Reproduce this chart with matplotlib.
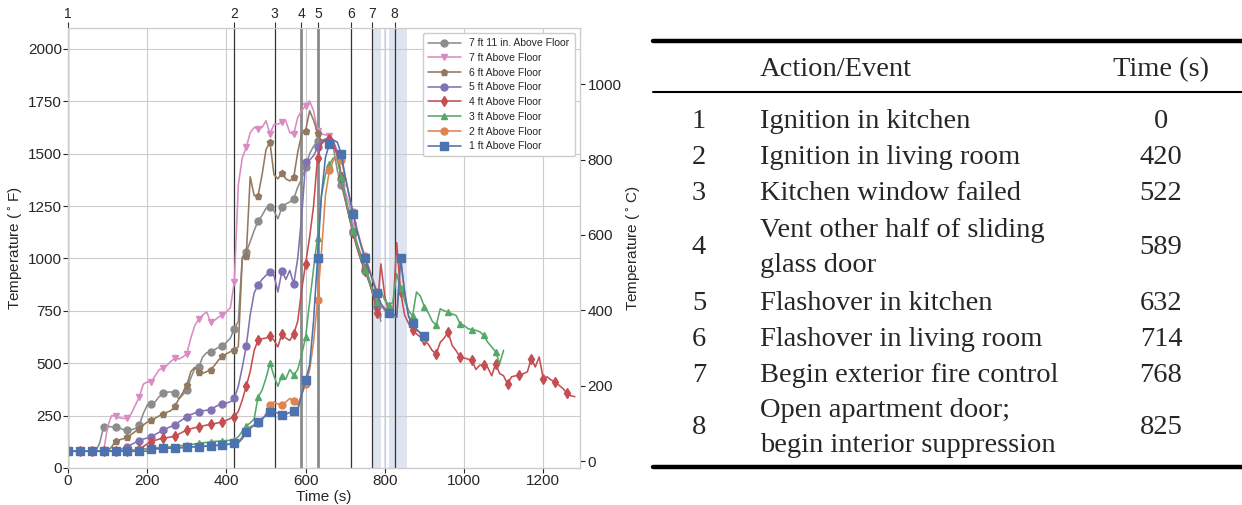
import numpy as np
import matplotlib
matplotlib.use("Agg")
import matplotlib.pyplot as plt
import seaborn as sns

# ---- data: temperatures (F) sampled every 10 s from ignition
step = 10
t_7ft11 = [80] * 8 + [120, 197, 200, 196, 194, 190, 183, 181, 183, 188, 205, 260, 300, 305, 316, 340,
           356, 362, 363, 356, 330, 350, 371, 430, 474, 480, 530, 550, 554, 565, 575, 580, 600, 620,
           665, 700, 1006, 1030, 1080, 1133, 1180, 1205, 1240, 1244, 1228, 1189, 1244, 1260, 1270,
           1284, 1340, 1380, 1435, 1500, 1535, 1560, 1565, 1560, 1545, 1530, 1420, 1350, 1280, 1200,
           1130, 1060, 1000, 950, 900, 840, 784, 700]
t_7ft = [80] * 10 + [200, 250, 248, 240, 236, 237, 260, 300, 340, 400, 410, 411, 440, 470, 475, 490,
         510, 523, 520, 530, 546, 620, 680, 710, 730, 745, 697, 705, 720, 729, 745, 765, 890, 1350,
         1480, 1530, 1600, 1625, 1620, 1625, 1657, 1594, 1640, 1641, 1649, 1657, 1600, 1594, 1673,
         1705, 1730, 1752, 1705, 1610, 1594, 1590, 1586, 1560, 1514, 1400, 1320, 1260, 1160, 1070,
         1020, 960, 900, 840, 780, 730]
t_6ft = [80] * 11 + [100, 131, 135, 140, 147, 160, 175, 187, 205, 219, 228, 238, 248, 259, 266, 274,
         295, 330, 360, 395, 460, 480, 459, 451, 460, 467, 490, 515, 535, 545, 555, 565, 578, 1000,
         1010, 1390, 1300, 1300, 1400, 1520, 1554, 1400, 1380, 1410, 1380, 1370, 1387, 1506, 1594,
         1610, 1705, 1660, 1600, 1556, 1562, 1562, 1555, 1500, 1380, 1290, 1210, 1130, 1070, 1010,
         960, 905, 845, 790, 730]
t_5ft = [80] * 13 + [85, 95, 102, 112, 122, 130, 138, 143, 148, 160, 170, 181, 190, 198, 205, 220,
         232, 244, 255, 262, 268, 272, 276, 278, 290, 300, 303, 310, 316, 332, 390, 480, 580, 730,
         835, 875, 900, 920, 935, 919, 840, 940, 900, 943, 879, 1000, 1200, 1460, 1470, 1490, 1530,
         1562, 1570, 1565, 1560, 1500, 1380, 1280, 1200, 1120, 1050, 990, 940, 890, 830, 770, 720]
t_4ft = [80] * 18 + [90, 102, 115, 125, 132, 138, 141, 145, 148, 152, 162, 172, 181, 187, 192, 197,
         200, 205, 209, 212, 216, 220, 228, 236, 244, 270, 324, 390, 460, 560, 612, 617, 620, 628,
         610, 578, 641, 620, 609, 640, 700, 850, 974, 1100, 1250, 1480, 1546, 1565, 1570, 1546,
         1490, 1390, 1290, 1200, 1120, 1050, 990, 940, 890, 830, 740, 974, 820, 744, 720, 1075, 840,
         730, 690, 657, 640, 625, 609, 590, 560, 546, 600, 620, 649, 585, 560, 530, 525, 520, 514,
         470, 491, 490, 480, 440, 498, 451, 440, 400, 435, 440, 443, 450, 459, 522, 482, 530, 427,
         435, 420, 411, 395, 379, 356, 345, 340]
t_3ft = [80] * 16 + [85, 87, 89, 90, 92, 94, 96, 98, 99, 100, 101, 102, 105, 108, 110, 112, 114, 118,
         120, 122, 125, 127, 128, 130, 131, 132, 135, 149, 175, 200, 215, 235, 340, 371, 430, 500,
         440, 390, 440, 425, 470, 443, 470, 540, 625, 790, 950, 1100, 1300, 1400, 1450, 1480, 1470,
         1390, 1300, 1210, 1130, 1060, 1000, 945, 895, 840, 790, 850, 800, 780, 790, 927, 860, 800,
         752, 725, 840, 820, 768, 740, 700, 681, 760, 750, 744, 735, 728, 689, 680, 665, 660, 657,
         650, 633, 600, 578, 554, 498, 562]
t_2ft = [80] * 16 + [82, 84, 86, 88, 90, 91, 92, 93, 94, 95, 96, 97, 98, 99, 100, 101, 102, 103, 104,
         105, 107, 108, 109, 111, 113, 115, 117, 125, 150, 175, 197, 205, 215, 228, 260, 300, 316,
         305, 300, 315, 332, 320, 300, 350, 400, 466, 600, 800, 1030, 1300, 1420, 1467, 1490, 1470,
         1390, 1300, 1220, 1140, 1070, 1010, 955, 900, 840, 780, 750, 740, 736, 720, 1000, 839, 730,
         690, 662, 640, 620]
t_1ft = [80] * 21 + [90, 91, 92, 93, 94, 95, 95, 96, 97, 98, 100, 101, 102, 103, 104, 105, 107, 108,
         109, 111, 115, 117, 120, 140, 170, 189, 205, 220, 236, 250, 265, 268, 262, 255, 257, 265,
         270, 276, 350, 420, 491, 700, 1000, 1300, 1482, 1546, 1565, 1555, 1500, 1390, 1300, 1210,
         1130, 1060, 1000, 945, 890, 835, 784, 760, 740, 736, 720, 1000, 839, 720, 690, 662, 645, 630]

series = [
    ("7 ft 11 in. Above Floor", t_7ft11, "#8c8c8c", "o"),
    ("7 ft Above Floor", t_7ft, "#da8bc3", "v"),
    ("6 ft Above Floor", t_6ft, "#937860", "p"),
    ("5 ft Above Floor", t_5ft, "#8172b3", "o"),
    ("4 ft Above Floor", t_4ft, "#c44e52", "d"),
    ("3 ft Above Floor", t_3ft, "#55a868", "^"),
    ("2 ft Above Floor", t_2ft, "#dd8452", "o"),
    ("1 ft Above Floor", t_1ft, "#4c72b0", "s"),
]

event_times = [0, 420, 522, 589, 632, 714, 768, 825]
event_names = ["Ignition in kitchen", "Ignition in living room", "Kitchen window failed",
               "Vent other half of sliding\nglass door", "Flashover in kitchen",
               "Flashover in living room", "Begin exterior fire control",
               "Open apartment door;\nbegin interior suppression"]
spans = [(770, 790), (799, 802), (810, 857)]

sns.set_style("whitegrid")
plt.rcParams["font.family"] = ["Liberation Sans", "DejaVu Sans"]

fig = plt.figure(figsize=(12.42, 5.05), dpi=100)
ax = fig.add_axes([0.0548, 0.0733, 0.4122, 0.8713])

for a, b in spans:
    ax.axvspan(a, b, color="#dfe4f1", lw=0, zorder=0.5)

for i, et in enumerate(event_times):
    if i in (3, 4):
        ax.axvline(et, color="#8a8a8a", lw=2, zorder=1)
    else:
        ax.axvline(et, color="#333333", lw=0.9, zorder=1)

for label, vals, col, mk in series:
    tt = np.arange(len(vals)) * step
    ms = 6 if mk == "s" else 5
    ax.plot(tt, vals, color=col, lw=1.15, marker=mk, ms=ms, markevery=3, label=label, zorder=2)

ax.set_xlim(0, 1293)
ax.set_ylim(0, 2100)
ax.set_xticks([0, 200, 400, 600, 800, 1000, 1200])
ax.set_yticks([0, 250, 500, 750, 1000, 1250, 1500, 1750, 2000])
ax.set_xlabel("Time (s)", fontsize=11, labelpad=1)
ax.set_ylabel("Temperature ($^\\circ$F)", fontsize=11, labelpad=2)
ax.tick_params(labelsize=11, pad=1)
for s in ax.spines.values():
    s.set_color("#cccccc")
ax.legend(loc="upper right", fontsize=7.5, frameon=True, framealpha=1,
          borderpad=0.5, labelspacing=0.45, handlelength=3.2)

top = ax.twiny()
top.set_xlim(ax.get_xlim())
top.set_xticks(event_times)
top.set_xticklabels([str(i + 1) for i in range(len(event_times))])
top.grid(False)
top.tick_params(axis="x", length=4, labelsize=10, pad=1, color="#333333")

right = ax.twinx()
right.set_ylim((0 - 32) / 1.8, (2100 - 32) / 1.8)
right.set_yticks([0, 200, 400, 600, 800, 1000])
right.grid(False)
right.tick_params(labelsize=11, pad=2)
right.set_ylabel("Temperature ($^\\circ$C)", fontsize=11, labelpad=2)
for s in list(top.spines.values()) + list(right.spines.values()):
    s.set_color("#cccccc")

# ---- table of events (figure coordinates in pixels)
W, H = 1242, 505
serif = ["Liberation Serif", "DejaVu Serif"]


def fx(px):
    return px / W


def fy(py):
    return 1 - py / H


def rule(py, lw):
    fig.add_artist(plt.Line2D([fx(653), fx(1242)], [fy(py), fy(py)], color="black", lw=lw))


rule(41, 3.2)
rule(92, 1.5)
rule(467, 3.2)

fs = 20.5
fig.text(fx(760), fy(70), "Action/Event", family=serif, fontsize=fs, va="center", ha="left")
fig.text(fx(1161), fy(70), "Time (s)", family=serif, fontsize=fs, va="center", ha="center")

row_y = [122, 158, 194, 248, 303, 339, 375, 428]
for i, (ny, name, et) in enumerate(zip(row_y, event_names, event_times)):
    fig.text(fx(699), fy(ny), str(i + 1), family=serif, fontsize=fs, va="center", ha="center")
    fig.text(fx(760), fy(ny), name, family=serif, fontsize=fs, va="center", ha="left",
             linespacing=1.55)
    fig.text(fx(1161), fy(ny), str(et), family=serif, fontsize=fs, va="center", ha="center")

fig.savefig("out.png", dpi=100)
